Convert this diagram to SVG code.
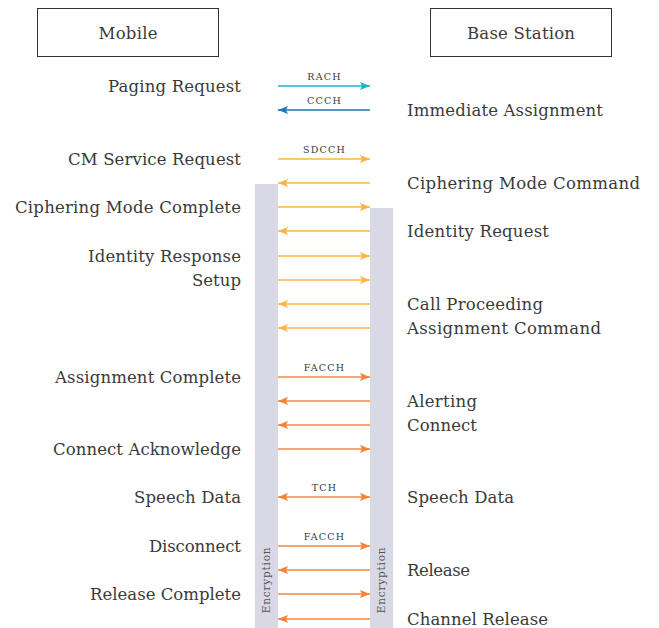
<svg xmlns="http://www.w3.org/2000/svg" width="659" height="628" viewBox="0 0 659 628">
<style>
.lbl{font-family:"DejaVu Serif","Liberation Serif",serif;font-size:16.5px;fill:#3a3a3a}
.l{text-anchor:end}
.ch{font-family:"DejaVu Serif","Liberation Serif",serif;font-size:9.5px;fill:#3a3a3a;text-anchor:middle;letter-spacing:1.2px}
.enc{font-family:"DejaVu Serif","Liberation Serif",serif;font-size:10.5px;fill:#555;text-anchor:middle;letter-spacing:0.8px}
.box{fill:#fff;stroke:#333;stroke-width:1}
.bar{fill:#d9d8e5}
.a{fill:none;stroke-width:1.3}
.teal{stroke:#1bb5c6}.blue{stroke:#1f78b8}.yel{stroke:#fbb447}.org{stroke:#f5843a}
</style>
<defs>
<marker id="mt" viewBox="0 0 10 8" refX="10" refY="4" markerWidth="10" markerHeight="8" markerUnits="userSpaceOnUse" orient="auto-start-reverse"><path d="M0,0 L10,4 L0,8 L2,4 z" fill="#1bb5c6"/></marker>
<marker id="mb" viewBox="0 0 10 8" refX="10" refY="4" markerWidth="10" markerHeight="8" markerUnits="userSpaceOnUse" orient="auto-start-reverse"><path d="M0,0 L10,4 L0,8 L2,4 z" fill="#1f78b8"/></marker>
<marker id="my" viewBox="0 0 10 8" refX="10" refY="4" markerWidth="10" markerHeight="8" markerUnits="userSpaceOnUse" orient="auto-start-reverse"><path d="M0,0 L10,4 L0,8 L2,4 z" fill="#fbb447"/></marker>
<marker id="mo" viewBox="0 0 10 8" refX="10" refY="4" markerWidth="10" markerHeight="8" markerUnits="userSpaceOnUse" orient="auto-start-reverse"><path d="M0,0 L10,4 L0,8 L2,4 z" fill="#f5843a"/></marker>
</defs>
<g id="mobile"><rect class="box" x="37.5" y="8.5" width="181" height="48"/><text class="lbl" x="128" y="38.5" text-anchor="middle" textLength="59">Mobile</text></g>
<g id="base-station"><rect class="box" x="430.5" y="8.5" width="181" height="48"/><text class="lbl" x="521" y="38.5" text-anchor="middle" textLength="108">Base Station</text></g>
<g id="encryption-mobile"><rect class="bar" x="255" y="184" width="23" height="444"/><text class="enc" transform="translate(270,580) rotate(-90)">Encryption</text></g>
<g id="encryption-base"><rect class="bar" x="370" y="208" width="23" height="420"/><text class="enc" transform="translate(385,580) rotate(-90)">Encryption</text></g>
<g id="connectors">
<path class="a teal" d="M278,86H370" marker-end="url(#mt)"/>
<path class="a blue" d="M370,110H278" marker-end="url(#mb)"/>
<path class="a yel" d="M278,159H370" marker-end="url(#my)"/>
<path class="a yel" d="M370,183H278" marker-end="url(#my)"/>
<path class="a yel" d="M278,207H370" marker-end="url(#my)"/>
<path class="a yel" d="M370,231H278" marker-end="url(#my)"/>
<path class="a yel" d="M278,256H370" marker-end="url(#my)"/>
<path class="a yel" d="M278,280H370" marker-end="url(#my)"/>
<path class="a yel" d="M370,304H278" marker-end="url(#my)"/>
<path class="a yel" d="M370,328H278" marker-end="url(#my)"/>
<path class="a org" d="M278,377H370" marker-end="url(#mo)"/>
<path class="a org" d="M370,401H278" marker-end="url(#mo)"/>
<path class="a org" d="M370,425H278" marker-end="url(#mo)"/>
<path class="a org" d="M278,449H370" marker-end="url(#mo)"/>
<path class="a org" d="M278,497H370" marker-start="url(#mo)" marker-end="url(#mo)"/>
<path class="a org" d="M278,546H370" marker-end="url(#mo)"/>
<path class="a org" d="M370,570H278" marker-end="url(#mo)"/>
<path class="a org" d="M278,594H370" marker-end="url(#mo)"/>
<path class="a org" d="M370,619H278" marker-end="url(#mo)"/>
<text class="ch" x="324.5" y="79.5">RACH</text>
<text class="ch" x="324.5" y="103.5">CCCH</text>
<text class="ch" x="324.5" y="152.5">SDCCH</text>
<text class="ch" x="324.5" y="370.5">FACCH</text>
<text class="ch" x="324.5" y="490.5">TCH</text>
<text class="ch" x="324.5" y="539.5">FACCH</text>
</g>
<g id="mobile-messages">
<text class="lbl l" x="241" y="91.5" textLength="133">Paging Request</text>
<text class="lbl l" x="241" y="164.5" textLength="173">CM Service Request</text>
<text class="lbl l" x="241" y="212.5" textLength="226">Ciphering Mode Complete</text>
<text class="lbl l" x="241" y="261.5" textLength="153">Identity Response</text>
<text class="lbl l" x="241" y="285.5" textLength="49">Setup</text>
<text class="lbl l" x="241" y="382.5" textLength="186">Assignment Complete</text>
<text class="lbl l" x="241" y="454.5" textLength="188">Connect Acknowledge</text>
<text class="lbl l" x="241" y="502.5" textLength="107">Speech Data</text>
<text class="lbl l" x="241" y="551.5" textLength="92">Disconnect</text>
<text class="lbl l" x="241" y="599.5" textLength="151">Release Complete</text>
</g>
<g id="base-messages">
<text class="lbl" x="407" y="115.5" textLength="196">Immediate Assignment</text>
<text class="lbl" x="407" y="188.5" textLength="233">Ciphering Mode Command</text>
<text class="lbl" x="407" y="236.5" textLength="142">Identity Request</text>
<text class="lbl" x="407" y="309.5" textLength="136">Call Proceeding</text>
<text class="lbl" x="407" y="333.5" textLength="194">Assignment Command</text>
<text class="lbl" x="407" y="406.5" textLength="70">Alerting</text>
<text class="lbl" x="407" y="430.5" textLength="70">Connect</text>
<text class="lbl" x="407" y="502.5" textLength="107">Speech Data</text>
<text class="lbl" x="407" y="575.5" textLength="63">Release</text>
<text class="lbl" x="407" y="624.5" textLength="141">Channel Release</text>
</g>
</svg>
